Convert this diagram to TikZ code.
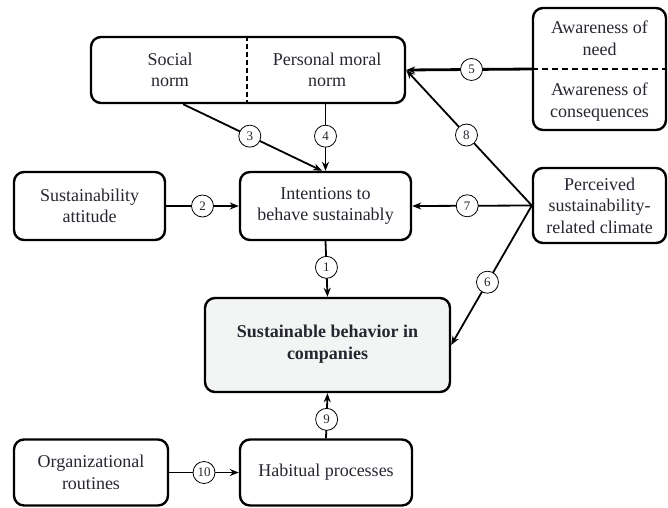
\documentclass[tikz,border=0pt]{standalone}
\usepackage{fontspec}
\setmainfont{Liberation Serif}
\newfontfamily\serf{Liberation Serif}
\usetikzlibrary{arrows.meta,calc}
\definecolor{txt}{HTML}{262630}
\definecolor{bfill}{HTML}{F3F5F5}
\begin{document}
\begin{tikzpicture}[x=1pt,y=-1pt,
  box/.style={draw=black,line width=2.4pt,rounded corners=10pt,inner sep=0pt},
  lbl/.style={text=txt,align=center,font=\serf\fontsize{18}{21.5}\selectfont,inner sep=0pt},
  conn/.style={line width=1.8pt,-{Stealth[length=9pt,width=7pt]}},
  circ/.style={draw=black,fill=white,line width=0.8pt,circle,minimum size=22pt,inner sep=0pt,text=txt,font=\serf\fontsize{13}{13}\selectfont}]
\useasboundingbox (0,0) rectangle (668,507);
% boxes
\node[box,minimum width=314pt,minimum height=66pt] (norm) at (248,70) {};
\node[lbl] (social) at (170,70) {Social\\norm};
\node[lbl] (pmn) at (327,70) {Personal moral\\norm};
\draw[line width=2pt,dash pattern=on 5pt off 3pt] (norm.north -| 247,0) coordinate (dt) -- (norm.south -| 247,0) coordinate (db);

\node[box,minimum width=133pt,minimum height=122pt] (aware) at (599.5,69) {};
\node[lbl] (need) at (599.5,38) {Awareness of\\need};
\node[lbl] (cons) at (599.5,102) {Awareness of\\consequences};
\draw[line width=2.6pt,dash pattern=on 6pt off 4pt] (aware.west) -- (aware.east);

\node[box,minimum width=151pt,minimum height=68pt] (att) at (89.5,206) {};
\node[lbl] at (att) {Sustainability\\attitude};
\node[box,minimum width=171pt,minimum height=68pt] (intent) at (325.5,206) {};
\node[lbl] at (intent) {Intentions to\\behave sustainably};
\node[box,minimum width=133pt,minimum height=75pt] (percv) at (599.5,205.5) {};
\node[lbl] at (percv) {Perceived\\sustainability-\\related climate};

\node[box,fill=bfill,minimum width=245pt,minimum height=94pt] (behav) at (327.5,345) {};
\node[lbl,font=\serf\fontsize{18}{22}\selectfont\bfseries] at (327.5,344) {Sustainable behavior in\\companies};

\node[box,minimum width=154pt,minimum height=66pt] (rout) at (91,472.5) {};
\node[lbl] at (rout) {Organizational\\routines};
\node[box,minimum width=172pt,minimum height=66pt] (habit) at (326,472.5) {};
\node[lbl] at (habit) {Habitual processes};

% connectors
\coordinate (s3) at ($(norm.south west)!0.295!(norm.south east)$);
\coordinate (e3) at ($(intent.north west)!0.48!(intent.north east)$);
\draw[conn] (intent.south) -- node[circ,pos=0.47] {1} (behav.north);
\draw[conn] (att.east) -- node[circ,pos=0.5] {2} (intent.west);
\draw[conn] (s3) -- node[circ,pos=0.48] {3} (e3);
\draw[conn] (intent.north |- norm.south) -- node[circ,pos=0.48] {4} (intent.north);
\draw[conn,line width=2.8pt] (aware.west) -- node[circ,pos=0.48] {5} (norm.east);
\draw[conn] (percv.west) -- node[circ,pos=0.55] {6} (behav.east);
\draw[conn] (percv.west) -- node[circ,pos=0.54] {7} (intent.east);
\draw[conn] (percv.west) -- node[circ,pos=0.52] {8} (norm.east);
\draw[conn] (habit.north) -- node[circ,pos=0.42] {9} (behav.south);
\draw[conn] (rout.east) -- node[circ,pos=0.5] {10} (habit.west);
\end{tikzpicture}
\end{document}
